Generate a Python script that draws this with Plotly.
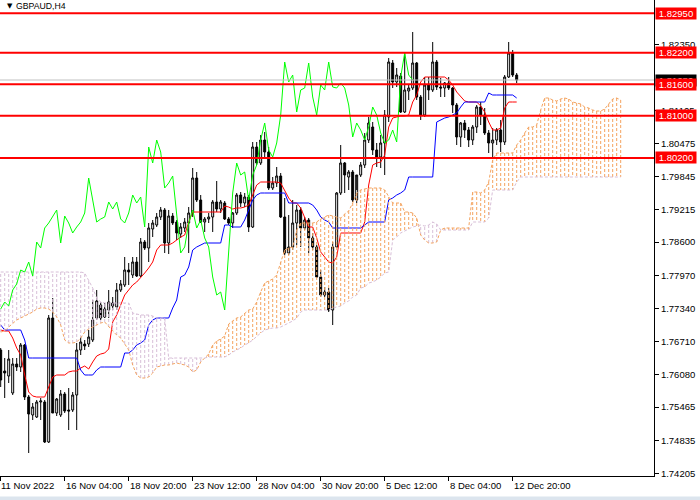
import plotly.graph_objects as go

# ---------------- data ----------------
open_ = [1.76550, 1.76151, 1.76056, 1.75733, 1.76284, 1.76227, 1.76645, 1.75657, 1.75315, 1.75277,
         1.75562, 1.75562, 1.74802, 1.77158, 1.75353, 1.75315, 1.75714, 1.75410, 1.75410, 1.75695,
         1.76550, 1.76664, 1.76664, 1.76740, 1.77158, 1.77405, 1.77177, 1.77310, 1.77443, 1.77367,
         1.77690, 1.77785, 1.78070, 1.77975, 1.78222, 1.77956, 1.78602, 1.78488, 1.78849, 1.78925,
         1.79077, 1.79210, 1.78583, 1.79096, 1.78982, 1.78754, 1.78868, 1.78963, 1.79153, 1.79818,
         1.79400, 1.78982, 1.79039, 1.79077, 1.79362, 1.79229, 1.79343, 1.79039, 1.78963, 1.79153,
         1.79495, 1.79343, 1.79457, 1.78887, 1.80407, 1.80103, 1.80540, 1.80312, 1.79628, 1.79723,
         1.79856, 1.79077, 1.78393, 1.78507, 1.78963, 1.79210, 1.78868, 1.79020, 1.78678, 1.78507,
         1.77937, 1.77595, 1.77652, 1.77310, 1.78507, 1.79533, 1.80103, 1.79837, 1.79932, 1.79400,
         1.79875, 1.80065, 1.80540, 1.80787, 1.80350, 1.80217, 1.80483, 1.80977, 1.82003, 1.81642,
         1.81756, 1.81072, 1.81471, 1.81528, 1.82003, 1.81357, 1.81015, 1.81585, 1.81490, 1.82022,
         1.81547, 1.81528, 1.81623, 1.81528, 1.81205, 1.80597, 1.80863, 1.80730, 1.80540, 1.80787,
         1.81167, 1.81015, 1.80673, 1.80483, 1.80540, 1.80730, 1.80502, 1.81737, 1.82193, 1.81775]
high = [1.76588, 1.76398, 1.76550, 1.76398, 1.76398, 1.76683, 1.76664, 1.75695, 1.75543, 1.75600,
        1.75638, 1.75600, 1.77215, 1.77538, 1.75638, 1.75790, 1.75752, 1.75828, 1.75752, 1.76683,
        1.76797, 1.76740, 1.76930, 1.77500, 1.77690, 1.77462, 1.77443, 1.77690, 1.77557, 1.77823,
        1.77880, 1.78317, 1.78203, 1.78317, 1.78317, 1.78678, 1.78640, 1.78963, 1.79020, 1.79153,
        1.79267, 1.79248, 1.79210, 1.79153, 1.79020, 1.78963, 1.79058, 1.79267, 1.80008, 1.79932,
        1.79495, 1.79077, 1.79153, 1.79400, 1.79761, 1.79400, 1.79381, 1.79077, 1.79172, 1.79533,
        1.79552, 1.79533, 1.79495, 1.80502, 1.80502, 1.80635, 1.80692, 1.80407, 1.79837, 1.80027,
        1.79913, 1.79438, 1.79115, 1.79400, 1.79305, 1.79267, 1.79077, 1.79058, 1.78773, 1.78545,
        1.78070, 1.77747, 1.77728, 1.78602, 1.79552, 1.80445, 1.80122, 1.79970, 1.79970, 1.79590,
        1.80122, 1.80673, 1.80977, 1.80882, 1.80483, 1.80635, 1.81110, 1.82098, 1.82060, 1.81908,
        1.81813, 1.82193, 1.81585, 1.82592, 1.82022, 1.81395, 1.81737, 1.81737, 1.82402, 1.82060,
        1.81718, 1.81642, 1.81737, 1.81547, 1.81243, 1.80882, 1.80920, 1.80787, 1.80825, 1.81205,
        1.81262, 1.81148, 1.80730, 1.80768, 1.80768, 1.80920, 1.81775, 1.82402, 1.82250, 1.81813]
low = [1.75847, 1.75638, 1.75923, 1.75695, 1.76151, 1.76132, 1.75600, 1.74593, 1.75220, 1.75258,
       1.75220, 1.74783, 1.74783, 1.75353, 1.75296, 1.75277, 1.75353, 1.75030, 1.75372, 1.75030,
       1.76455, 1.76550, 1.76607, 1.76702, 1.77120, 1.77120, 1.77158, 1.77158, 1.77310, 1.77310,
       1.77652, 1.77747, 1.77785, 1.77918, 1.77937, 1.77937, 1.78450, 1.78222, 1.78697, 1.78887,
       1.79020, 1.78393, 1.78374, 1.78925, 1.78640, 1.78678, 1.78792, 1.78393, 1.79077, 1.79362,
       1.78963, 1.78792, 1.78963, 1.78792, 1.79172, 1.79153, 1.79020, 1.78925, 1.78868, 1.79115,
       1.79267, 1.79267, 1.78792, 1.78868, 1.80065, 1.80065, 1.80198, 1.79590, 1.79590, 1.79647,
       1.79058, 1.78355, 1.78355, 1.78450, 1.78545, 1.78507, 1.78830, 1.78393, 1.78450, 1.77918,
       1.77557, 1.77557, 1.77272, 1.77025, 1.78488, 1.79495, 1.79533, 1.79590, 1.79362, 1.79343,
       1.79837, 1.80008, 1.80483, 1.80255, 1.80027, 1.80008, 1.79875, 1.80882, 1.81528, 1.81547,
       1.81053, 1.81053, 1.81300, 1.81490, 1.81300, 1.80920, 1.80977, 1.81300, 1.81452, 1.81490,
       1.81357, 1.81357, 1.81490, 1.81053, 1.80445, 1.80407, 1.80578, 1.80407, 1.80445, 1.80673,
       1.80825, 1.80635, 1.80293, 1.80217, 1.80445, 1.80312, 1.80445, 1.81718, 1.81737, 1.81623]
close = [1.75980, 1.76113, 1.76379, 1.76284, 1.76227, 1.76645, 1.75657, 1.75334, 1.75467, 1.75562,
         1.75581, 1.74802, 1.77158, 1.75353, 1.75619, 1.75714, 1.75391, 1.75391, 1.75695, 1.76550,
         1.76702, 1.76626, 1.76797, 1.77120, 1.77481, 1.77158, 1.77329, 1.77462, 1.77386, 1.77690,
         1.77804, 1.78070, 1.78032, 1.78222, 1.77956, 1.78602, 1.78488, 1.78868, 1.78963, 1.79077,
         1.79210, 1.78583, 1.79096, 1.78963, 1.78773, 1.78887, 1.78982, 1.79153, 1.79818, 1.79400,
         1.78982, 1.79039, 1.79077, 1.79362, 1.79229, 1.79362, 1.79039, 1.78963, 1.79153, 1.79495,
         1.79343, 1.79457, 1.78887, 1.80407, 1.80103, 1.80540, 1.80312, 1.79628, 1.79723, 1.79856,
         1.79077, 1.78393, 1.78507, 1.78963, 1.79210, 1.78868, 1.79020, 1.78678, 1.78507, 1.77937,
         1.77595, 1.77652, 1.77310, 1.78507, 1.79533, 1.80103, 1.79875, 1.79932, 1.79400, 1.79875,
         1.80065, 1.80540, 1.80863, 1.80350, 1.80217, 1.80483, 1.81015, 1.82022, 1.81642, 1.81775,
         1.81072, 1.81490, 1.81528, 1.82003, 1.81357, 1.81015, 1.81585, 1.81490, 1.82022, 1.81547,
         1.81528, 1.81623, 1.81528, 1.81205, 1.80597, 1.80863, 1.80730, 1.80540, 1.80787, 1.81167,
         1.81015, 1.80673, 1.80483, 1.80540, 1.80730, 1.80502, 1.81737, 1.82193, 1.81775, 1.81680]

tenkan = [1.76930, 1.76911, 1.76911, 1.76778, 1.76588, 1.76455, 1.76075, 1.75752, 1.75676, 1.75657,
          1.75657, 1.75657, 1.75847, 1.76037, 1.76075, 1.76075, 1.76075, 1.76132, 1.76151, 1.76151,
          1.76208, 1.76246, 1.76189, 1.76322, 1.76436, 1.76474, 1.76493, 1.76569, 1.77082, 1.77215,
          1.77405, 1.77595, 1.77690, 1.77785, 1.77842, 1.77918, 1.78013, 1.78108, 1.78222, 1.78450,
          1.78545, 1.78545, 1.78545, 1.78583, 1.78640, 1.78697, 1.78735, 1.78982, 1.79172, 1.79172,
          1.79172, 1.79172, 1.79172, 1.79172, 1.79172, 1.79172, 1.79286, 1.79267, 1.79229, 1.79248,
          1.79248, 1.79267, 1.79305, 1.79495, 1.79685, 1.79742, 1.79742, 1.79742, 1.79742, 1.79742,
          1.79723, 1.79590, 1.79438, 1.79343, 1.79343, 1.79248, 1.79077, 1.78887, 1.78887, 1.78678,
          1.78412, 1.78317, 1.78222, 1.78203, 1.78317, 1.78773, 1.78773, 1.78773, 1.78773, 1.78773,
          1.78773, 1.78982, 1.79685, 1.80065, 1.80103, 1.80122, 1.80255, 1.80787, 1.80958, 1.80977,
          1.80996, 1.80996, 1.81015, 1.81262, 1.81395, 1.81642, 1.81737, 1.81737, 1.81737, 1.81737,
          1.81737, 1.81737, 1.81680, 1.81585, 1.81452, 1.81357, 1.81281, 1.81262, 1.81262, 1.81262,
          1.81186, 1.81072, 1.80882, 1.80730, 1.80730, 1.80768, 1.81148, 1.81262, 1.81262, 1.81262]
kijun = [1.77025, 1.76930, 1.76930, 1.76930, 1.76930, 1.76930, 1.76740, 1.76398, 1.76398, 1.76398,
         1.76398, 1.76398, 1.76398, 1.76398, 1.76398, 1.76398, 1.76398, 1.76398, 1.76398, 1.76398,
         1.76170, 1.76075, 1.76075, 1.76075, 1.76170, 1.76227, 1.76227, 1.76227, 1.76227, 1.76227,
         1.76227, 1.76493, 1.76493, 1.76550, 1.76645, 1.76683, 1.76740, 1.77025, 1.77120, 1.77158,
         1.77158, 1.77158, 1.77158, 1.77348, 1.77500, 1.77937, 1.77975, 1.78127, 1.78450, 1.78507,
         1.78545, 1.78583, 1.78583, 1.78583, 1.78583, 1.78583, 1.78925, 1.78925, 1.78887, 1.78887,
         1.78887, 1.79020, 1.79210, 1.79400, 1.79495, 1.79533, 1.79533, 1.79533, 1.79533, 1.79533,
         1.79533, 1.79533, 1.79343, 1.79343, 1.79343, 1.79343, 1.79343, 1.79343, 1.79305, 1.79210,
         1.79077, 1.79020, 1.78982, 1.78868, 1.78868, 1.78868, 1.78868, 1.78868, 1.78868, 1.78868,
         1.78868, 1.78925, 1.78982, 1.78982, 1.78982, 1.78982, 1.78982, 1.79400, 1.79438, 1.79495,
         1.79533, 1.79590, 1.79837, 1.79837, 1.79837, 1.79837, 1.79837, 1.79837, 1.79837, 1.80882,
         1.80920, 1.80958, 1.80977, 1.81015, 1.81053, 1.81167, 1.81262, 1.81262, 1.81262, 1.81262,
         1.81262, 1.81262, 1.81433, 1.81395, 1.81395, 1.81395, 1.81395, 1.81395, 1.81395, 1.81338]

span_a = [1.76892, 1.76911, 1.76987, 1.77063, 1.77120, 1.77158, 1.77196, 1.77234, 1.77272, 1.77329,
          1.77348, 1.77348, 1.77329, 1.77272, 1.77177, 1.77025, 1.76740, 1.76683, 1.76683, 1.76702,
          1.76778, 1.76892, 1.76949, 1.76987, 1.77025, 1.77063, 1.77082, 1.76987, 1.76911, 1.76835,
          1.76778, 1.76664, 1.76550, 1.76265, 1.76075, 1.76018, 1.76018, 1.76037, 1.76113, 1.76227,
          1.76246, 1.76265, 1.76265, 1.76284, 1.76303, 1.76284, 1.76265, 1.76227, 1.76132, 1.76170,
          1.76322, 1.76398, 1.76474, 1.76645, 1.76721, 1.76759, 1.76816, 1.77044, 1.77101, 1.77158,
          1.77177, 1.77253, 1.77310, 1.77329, 1.77462, 1.77652, 1.77823, 1.77861, 1.77899, 1.77975,
          1.78222, 1.78450, 1.78488, 1.78507, 1.78830, 1.78963, 1.78963, 1.78963, 1.78963, 1.78982,
          1.79039, 1.79077, 1.79115, 1.79096, 1.79077, 1.79058, 1.79134, 1.79191, 1.79343, 1.79533,
          1.79590, 1.79609, 1.79628, 1.79628, 1.79628, 1.79628, 1.79590, 1.79457, 1.79343, 1.79343,
          1.79343, 1.79172, 1.79172, 1.79153, 1.79058, 1.78735, 1.78640, 1.78583, 1.78583, 1.78602,
          1.78830, 1.78868, 1.78868, 1.78868, 1.78868, 1.78868, 1.78868, 1.78868, 1.79552, 1.79552,
          1.79533, 1.79590, 1.79742, 1.80160, 1.80293, 1.80293, 1.80293, 1.80293, 1.80293, 1.80445,
          1.80540, 1.80673, 1.80787, 1.80787, 1.80825, 1.81110, 1.81338, 1.81338, 1.81300, 1.81281,
          1.81319, 1.81338, 1.81319, 1.81262, 1.81243, 1.81224, 1.81167, 1.81148, 1.81110, 1.81091,
          1.81091, 1.81129, 1.81224, 1.81319, 1.81338, 1.81300]
span_b = [1.78032] * 21 + [
          1.78013, 1.77880, 1.77728, 1.77538, 1.77462, 1.77443, 1.77443, 1.77443, 1.77443, 1.77443,
          1.77443, 1.77443, 1.77253, 1.77234, 1.77215, 1.77215, 1.77215, 1.77196, 1.77158, 1.77158,
          1.77158, 1.76398, 1.76398, 1.76398, 1.76398, 1.76398, 1.76398, 1.76398, 1.76398, 1.76398,
          1.76398, 1.76417, 1.76417, 1.76417, 1.76417, 1.76417, 1.76455, 1.76512, 1.76550, 1.76588,
          1.76645, 1.76683, 1.76740, 1.76816, 1.76873, 1.76930, 1.76949, 1.76968, 1.76968, 1.76987,
          1.77025, 1.77063, 1.77101, 1.77158, 1.77272, 1.77310, 1.77310, 1.77310, 1.77310, 1.77310,
          1.77310, 1.77310, 1.77348, 1.77367, 1.77386, 1.77443, 1.77481, 1.77557, 1.77595, 1.77728,
          1.77747, 1.77823, 1.77842, 1.77880, 1.77937, 1.78013, 1.78032, 1.78640, 1.78697, 1.78773,
          1.78811, 1.78849, 1.78887, 1.78906, 1.78925, 1.78906, 1.78925, 1.78982, 1.78944, 1.78830,
          1.78830, 1.78830, 1.78830, 1.78830, 1.78830, 1.78830, 1.78830, 1.78982, 1.78982, 1.78982,
          1.78982, 1.79058, 1.79590, 1.79590, 1.79590, 1.79590, 1.79590, 1.79590, 1.79742] + [1.79837] * 26

chikou_shift = 26
level_prices = [1.82950, 1.82200, 1.81600, 1.81000, 1.80200]
level_labels = ["1.82950", "1.82200", "1.81600", "1.81000", "1.80200"]
# 1.81730 sits under the bid label in the reference, so it is not listed
y_tickvals = [1.82350, 1.81105, 1.80475, 1.79845, 1.79215, 1.78600,
              1.77970, 1.77340, 1.76710, 1.76080, 1.75465, 1.74835, 1.74205]
y_ticktext = ["1.82350", "1.81105", "1.80475", "1.79845", "1.79215", "1.78600",
              "1.77970", "1.77340", "1.76710", "1.76080", "1.75465", "1.74835", "1.74205"]
x_tick_bars = [-0.1, 16, 32, 48, 64, 80, 96, 112, 128]
x_tick_labels = ["11 Nov 2022", "16 Nov 04:00", "18 Nov 20:00", "23 Nov 12:00", "28 Nov 04:00",
                 "30 Nov 20:00", "5 Dec 12:00", "8 Dec 04:00", "12 Dec 20:00"]
symbol_title = "GBPAUD,H4"

# ---------------- figure ----------------
FONT = "Liberation Sans"
bars = list(range(len(close)))
fig = go.Figure()

fig.add_trace(go.Candlestick(
    x=bars, open=open_, high=high, low=low, close=close,
    increasing=dict(line=dict(color="black", width=1), fillcolor="white"),
    decreasing=dict(line=dict(color="black", width=1), fillcolor="black"),
    whiskerwidth=0, hoverinfo="skip", showlegend=False))

fig.add_trace(go.Scatter(x=bars, y=tenkan, mode="lines", line=dict(color="#ff0000", width=1),
                         hoverinfo="skip", showlegend=False))
fig.add_trace(go.Scatter(x=bars, y=kijun, mode="lines", line=dict(color="#0000ff", width=1),
                         hoverinfo="skip", showlegend=False))

# cloud hatching: one vertical dashed stroke per bar between span A and span B
up_x, up_y, dn_x, dn_y = [], [], [], []
for j, (a, b) in enumerate(zip(span_a, span_b)):
    if a >= b:
        up_x += [j, j, None]; up_y += [a, b, None]
    else:
        dn_x += [j, j, None]; dn_y += [a, b, None]
fig.add_trace(go.Scatter(x=up_x, y=up_y, mode="lines", line=dict(color="#f4a460", width=1, dash="3px,2px"),
                         hoverinfo="skip", showlegend=False))
fig.add_trace(go.Scatter(x=dn_x, y=dn_y, mode="lines", line=dict(color="#d8bfd8", width=1, dash="3px,2px"),
                         hoverinfo="skip", showlegend=False))

span_x = list(range(len(span_a)))
fig.add_trace(go.Scatter(x=span_x, y=span_a, mode="lines", line=dict(color="#f4a460", width=1, dash="3px,2px"),
                         hoverinfo="skip", showlegend=False))
fig.add_trace(go.Scatter(x=span_x, y=span_b, mode="lines", line=dict(color="#d8bfd8", width=1, dash="3px,2px"),
                         hoverinfo="skip", showlegend=False))

# chikou span: closes drawn 26 bars back
fig.add_trace(go.Scatter(x=bars[:len(close) - chikou_shift], y=close[chikou_shift:], mode="lines",
                         line=dict(color="#00ff00", width=1), hoverinfo="skip", showlegend=False))

shapes = []
shapes.append(dict(type="line", xref="paper", x0=0, x1=1, yref="y", y0=close[-1], y1=close[-1],
                   line=dict(color="#c0c0c0", width=1)))
for p in level_prices:
    shapes.append(dict(type="line", xref="paper", x0=0, x1=1, yref="y", y0=p, y1=p,
                       line=dict(color="#ff0000", width=2)))
shapes.append(dict(type="rect", xref="paper", yref="paper", x0=-0.01, x1=1.08, y0=-0.052, y1=-0.043,
                   line=dict(width=0), fillcolor="#dce5ee", layer="below"))

annotations = []
# bid label (mostly hidden by the level label)
annotations.append(dict(xref="paper", x=1, xanchor="left", xshift=1, yref="y", y=close[-1], yanchor="middle",
                        text=f"{close[-1]:.5f}", showarrow=False, bgcolor="black", borderpad=0,
                        width=40, height=11, align="center",
                        font=dict(family=FONT, size=9.5, color="white")))
for p, t in zip(level_prices, level_labels):
    annotations.append(dict(xref="paper", x=1, xanchor="left", xshift=1, yref="y", y=p, yanchor="middle",
                            text=t, showarrow=False, bgcolor="#ff0000", borderpad=0,
                            width=40, height=11, align="center",
                            font=dict(family=FONT, size=9.5, color="white")))
for xb, t in zip(x_tick_bars, x_tick_labels):
    annotations.append(dict(xref="x", x=xb, xanchor="left", xshift=-1, yref="paper", y=-0.019, yanchor="middle",
                            text=t, showarrow=False, font=dict(family=FONT, size=9.5, color="black")))
annotations.append(dict(xref="paper", x=5 / 654, xanchor="left", yref="paper", y=1 - 6.5 / 476, yanchor="middle",
                        text="▼", showarrow=False, font=dict(family="DejaVu Sans", size=7, color="black")))
annotations.append(dict(xref="paper", x=14 / 654, xanchor="left", yref="paper", y=1 - 6 / 476, yanchor="middle",
                        text=symbol_title, showarrow=False, font=dict(family=FONT, size=8.7, color="black")))

fig.update_layout(
    width=700, height=500,
    margin=dict(l=0, r=46, t=0, b=24, autoexpand=False),
    plot_bgcolor="white", paper_bgcolor="white",
    shapes=shapes, annotations=annotations,
    showlegend=False,
    xaxis=dict(range=[-0.175, 163.33], showgrid=False, zeroline=False, rangeslider=dict(visible=False),
               showline=True, linecolor="black", linewidth=1, ticks="outside", ticklen=4,
               tickcolor="black", tickvals=x_tick_bars, showticklabels=False, fixedrange=True),
    yaxis=dict(range=[1.74156, 1.83200], side="right", showgrid=False, zeroline=False,
               showline=True, linecolor="black", linewidth=1, ticks="outside", ticklen=4, tickcolor="black",
               tickvals=y_tickvals, ticktext=y_ticktext,
               tickfont=dict(family=FONT, size=9.5, color="black"), fixedrange=True),
)

fig.write_html("out.html", config={"displayModeBar": False, "staticPlot": True},
               post_script="document.body.style.margin='0';document.body.style.overflow='hidden';")
